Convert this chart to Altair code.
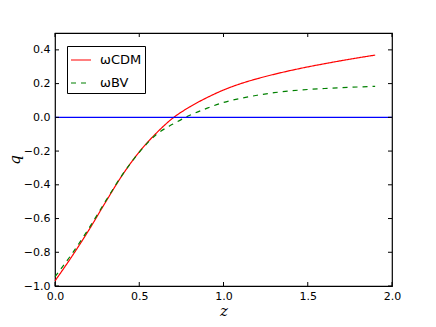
import altair as alt
import pandas as pd

# --- data ---
z = [0.0, 0.1, 0.2, 0.3, 0.4, 0.5, 0.6, 0.7, 0.8, 0.9, 1.0,
     1.1, 1.2, 1.3, 1.4, 1.5, 1.6, 1.7, 1.8, 1.9]
q_cdm = [-0.97, -0.825, -0.67, -0.503, -0.342, -0.205, -0.095, -0.004, 0.062, 0.116,
         0.162, 0.199, 0.229, 0.255, 0.278, 0.299, 0.318, 0.336, 0.353, 0.369]
q_bv = [-0.945, -0.81, -0.66, -0.497, -0.34, -0.207, -0.103, -0.04, 0.012, 0.053,
        0.088, 0.112, 0.131, 0.146, 0.157, 0.165, 0.171, 0.176, 0.180, 0.184]
series = ["\u03c9CDM", "\u03c9BV"]
x_ticks = [0.0, 0.5, 1.0, 1.5, 2.0]
y_ticks = [-1.0, -0.8, -0.6, -0.4, -0.2, 0.0, 0.2, 0.4]
zero_line = [0.0]

df = pd.DataFrame({
    "z": z + z,
    "q": q_cdm + q_bv,
    "model": [series[0]] * len(z) + [series[1]] * len(z),
})

W, H = 337, 253
TICK = 4
xs = alt.Scale(domain=[0.0, 2.0], nice=False, zero=False)
ys = alt.Scale(domain=[-1.0, 0.5], nice=False, zero=False)

legend = alt.Legend(
    title=None, orient="none", legendX=12, legendY=13, direction="vertical",
    symbolType="stroke", symbolSize=400, symbolStrokeWidth=1.2,
    labelFontSize=13, labelFont="DejaVu Sans", labelColor="black", labelOffset=8,
    rowPadding=5, padding=3, strokeColor="black", fillColor="white",
    cornerRadius=0,
)

x_axis = alt.Axis(values=x_ticks, format=".1f", ticks=False, domain=False, grid=False,
                  labelFontSize=11, labelFont="DejaVu Sans", labelColor="black",
                  labelPadding=4, labelFlush=False, labelOverlap=False,
                  title="z", titleFont="DejaVu Serif", titleFontStyle="italic",
                  titleFontWeight="normal", titleFontSize=15, titlePadding=2,
                  titleColor="black")
y_axis = alt.Axis(values=y_ticks, ticks=False, domain=False, grid=False,
                  labelExpr="replace(format(datum.value, '.1f'), '-', '\u2212')",
                  labelFontSize=11, labelFont="DejaVu Sans", labelColor="black",
                  labelPadding=5, labelFlush=False, labelOverlap=False,
                  title="q", titleFont="DejaVu Serif", titleFontStyle="italic",
                  titleFontWeight="normal", titleFontSize=15, titlePadding=1,
                  titleColor="black")

lines = alt.Chart(df).mark_line(interpolate="monotone", strokeWidth=1.2).encode(
    x=alt.X("z:Q", scale=xs, axis=x_axis),
    y=alt.Y("q:Q", scale=ys, axis=y_axis),
    color=alt.Color("model:N", scale=alt.Scale(domain=series, range=["#ff0000", "#008000"]),
                    legend=legend),
    strokeDash=alt.StrokeDash("model:N", scale=alt.Scale(domain=series, range=[[1, 0], [5, 5]]),
                              legend=legend),
)

hline = alt.Chart(pd.DataFrame({"q": zero_line})).mark_rule(color="#0000ff", strokeWidth=1.2).encode(
    y=alt.Y("q:Q", scale=ys, axis=y_axis)
)

xt = pd.DataFrame({"z": x_ticks})
yt = pd.DataFrame({"q": y_ticks})
tick_bottom = alt.Chart(xt).mark_rule(color="black").encode(
    x=alt.X("z:Q", scale=xs, axis=x_axis), y=alt.value(H), y2=alt.value(H - TICK))
tick_top = alt.Chart(xt).mark_rule(color="black").encode(
    x=alt.X("z:Q", scale=xs, axis=x_axis), y=alt.value(0), y2=alt.value(TICK))
tick_left = alt.Chart(yt).mark_rule(color="black").encode(
    y=alt.Y("q:Q", scale=ys, axis=y_axis), x=alt.value(0), x2=alt.value(TICK))
tick_right = alt.Chart(yt).mark_rule(color="black").encode(
    y=alt.Y("q:Q", scale=ys, axis=y_axis), x=alt.value(W), x2=alt.value(W - TICK))

chart = alt.layer(lines, hline, tick_bottom, tick_top, tick_left, tick_right).properties(
    width=W, height=H,
    padding={"left": 47, "top": 25, "right": 36, "bottom": 33},
    autosize=alt.AutoSizeParams(type="none"),
    background="white",
).configure_view(stroke="black", strokeWidth=1.2)

chart.save("out.html", embed_options={"renderer": "svg", "actions": False})
